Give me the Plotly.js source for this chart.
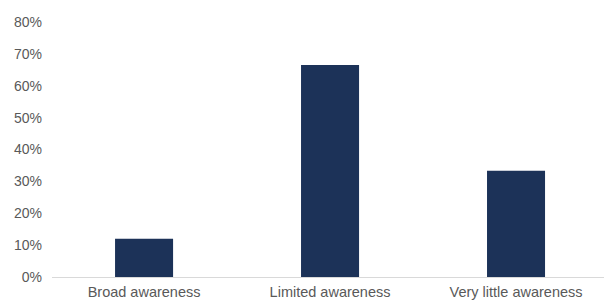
<!DOCTYPE html>
<html>
<head>
<meta charset="utf-8">
<script src="https://cdn.plot.ly/plotly-3.0.1.min.js"></script>
<style>html,body{margin:0;padding:0;background:#fff;}#chart{width:604px;height:300px;}</style>
</head>
<body>
<div id="chart"></div>
<script>
const categories = ["Broad awareness", "Limited awareness", "Very little awareness"];
const values = [0.12, 0.665, 0.333];
const yTicks = [0, 0.1, 0.2, 0.3, 0.4, 0.5, 0.6, 0.7, 0.8];
const yTickLabels = ["0%", "10%", "20%", "30%", "40%", "50%", "60%", "70%", "80%"];

const trace = {
  type: "bar",
  x: categories,
  y: values,
  width: 0.312,
  marker: {color: "#1c3258"},
  hoverinfo: "skip"
};

const layout = {
  width: 604,
  height: 300,
  margin: {l: 52, r: 0, t: 22, b: 23},
  paper_bgcolor: "#fff",
  plot_bgcolor: "#fff",
  showlegend: false,
  font: {family: "Liberation Sans, Arial, sans-serif", size: 14, color: "#595959"},
  xaxis: {
    range: [-0.495, 2.473],
    showline: true,
    linecolor: "#d9d9d9",
    linewidth: 1,
    showgrid: false,
    zeroline: false,
    ticks: "",
    ticklabelstandoff: 2,
    tickfont: {size: 14.5, color: "#595959"},
    automargin: false,
    fixedrange: true
  },
  yaxis: {
    range: [0, 0.8],
    tickvals: yTicks,
    ticktext: yTickLabels,
    showgrid: false,
    zeroline: false,
    showline: false,
    ticks: "",
    ticklabelstandoff: 9,
    tickfont: {size: 14, color: "#595959"},
    automargin: false,
    fixedrange: true
  }
};

Plotly.newPlot("chart", [trace], layout, {displayModeBar: false, staticPlot: true});
</script>
</body>
</html>
